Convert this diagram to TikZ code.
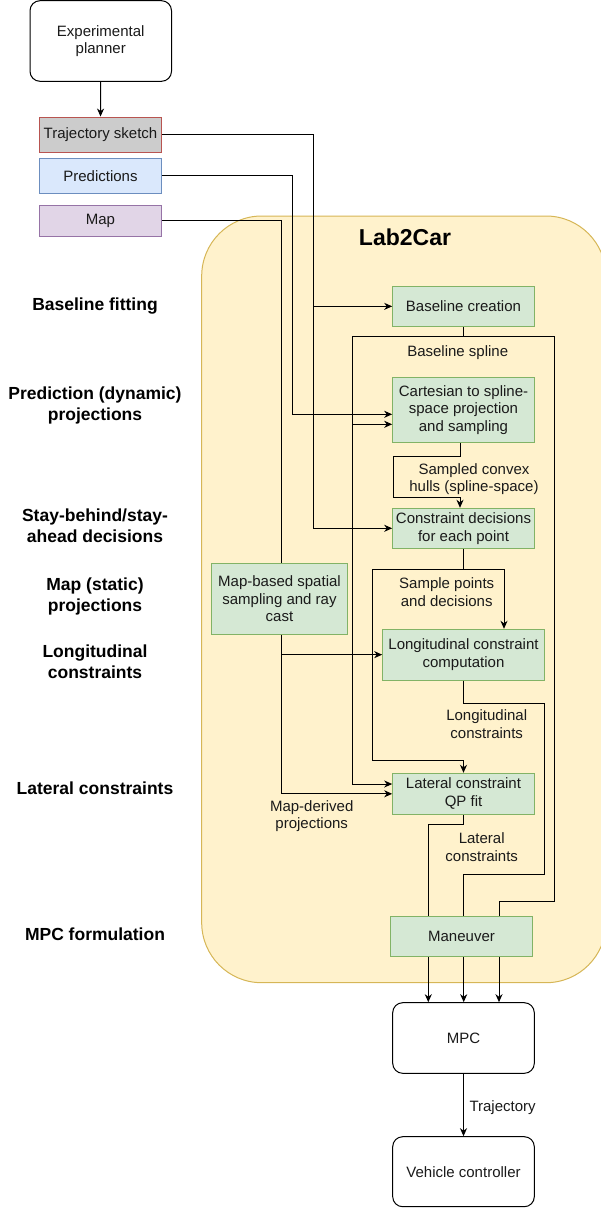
\documentclass[tikz,border=0pt]{standalone}
\usepackage{fontspec}
\setmainfont{Liberation Sans}
\usetikzlibrary{arrows.meta,calc}
\definecolor{gfill}{HTML}{D5E8D4}
\definecolor{gline}{HTML}{82B366}
\definecolor{yfill}{HTML}{FFF2CC}
\definecolor{yline}{HTML}{D6B656}
\definecolor{bfill}{HTML}{DAE8FC}
\definecolor{bline}{HTML}{6C8EBF}
\definecolor{pfill}{HTML}{E1D5E7}
\definecolor{pline}{HTML}{9673A6}
\definecolor{rfill}{HTML}{CCCCCC}
\definecolor{rline}{HTML}{B85450}
\definecolor{txt}{HTML}{1A1A1A}
\tikzset{
  base/.style={draw, line width=1pt, inner sep=0pt, align=center, text=txt,
    font=\fontsize{15}{17.7}\selectfont},
  gbox/.style={base, draw=gline, fill=gfill},
  rbox/.style={base, draw=black, fill=white, rounded corners=10pt},
  lab/.style={inner sep=0pt, align=center, text=txt, font=\fontsize{15}{17.7}\selectfont},
  side/.style={inner sep=0pt, align=center, text=black, font=\fontsize{17.5}{21}\selectfont\bfseries},
  ln/.style={draw=black, line width=1pt},
  arr/.style={ln, -{Stealth[length=8pt,width=7pt,inset=2.5pt]}},
}
\begin{document}
\begin{tikzpicture}[x=1pt,y=-1pt]
\useasboundingbox (0,0) rectangle (601,1208);
% container
\draw[draw=yline, fill=yfill, line width=1pt, rounded corners=60pt] (201.7,216) rectangle (606,982.7);
\node[inner sep=0pt, font=\fontsize{23}{27}\selectfont\bfseries] (l2c) at (405,237) {Lab2Car};

% side labels
\node[side] (s1) at (95,306) {Baseline fitting};
\node[side] (s2) at (95,405) {Prediction (dynamic)\\projections};
\node[side] (s3) at (95,525.5) {Stay-behind/stay-\\ahead decisions};
\node[side] (s4) at (95,596) {Map (static)\\projections};
\node[side] (s5) at (95,662) {Longitudinal\\constraints};
\node[side] (s6) at (95,788) {Lateral constraints};
\node[side] (s7) at (95,934) {MPC formulation};

% top nodes
\node[rbox, minimum width=141.5pt, minimum height=80.6pt] (ep) at (100.75,41) {Experimental\\planner};
\node[base, draw=rline, fill=rfill, minimum width=122pt, minimum height=35.3pt] (ts) at (100.5,134.7) {Trajectory sketch};
\node[base, draw=bline, fill=bfill, minimum width=122pt, minimum height=35.3pt] (pr) at (100.5,175.7) {Predictions};
\node[base, draw=pline, fill=pfill, minimum width=122pt, minimum height=31pt] (mp) at (100.5,220.5) {Map};

% green nodes
\node[gbox, minimum width=141.6pt, minimum height=40.7pt] (bc) at (463.5,306.35) {Baseline creation};
\node[gbox, minimum width=141.6pt, minimum height=65.4pt] (cart) at (463.5,410) {Cartesian to spline-\\space projection\\and sampling};
\node[gbox, minimum width=141.6pt, minimum height=40pt] (cd) at (463.5,528.3) {Constraint decisions\\for each point};
\node[gbox, minimum width=136.4pt, minimum height=71pt] (mb) at (279.5,598.8) {Map-based spatial\\sampling and ray\\cast};
\node[gbox, minimum width=161.6pt, minimum height=50.7pt] (long) at (463.5,654.65) {Longitudinal constraint\\computation};
\node[gbox, minimum width=141.6pt, minimum height=41pt] (lat) at (463.5,793.8) {Lateral constraint\\QP fit};
\node[gbox, minimum width=141.6pt, minimum height=40pt] (man) at (461.5,936.7) {Maneuver};
\node[rbox, minimum width=141.6pt, minimum height=70.6pt] (mpc) at (463.5,1038) {MPC};
\node[rbox, minimum width=141.6pt, minimum height=70pt] (vc) at (463.5,1171.7) {Vehicle controller};

% edge labels
\node[lab] (lbs) at (457.7,352.7) {Baseline spline};
\node[lab] (lsc) at (474,479.2) {Sampled convex\\hulls (spline-space)};
\node[lab] (lsp) at (446.7,592.2) {Sample points\\and decisions};
\node[lab] (llc) at (486.7,724) {Longitudinal\\constraints};
\node[lab] (lmd) at (311.7,816.2) {Map-derived\\projections};
\node[lab] (llat) at (481.7,847.2) {Lateral\\constraints};

% connectors
\draw[arr] (ep.south) -- (ts.north);
\draw[arr] (ts.east) -| (313,528.3) -- (cd.west);
\draw[arr] (313,306.35) -- (bc.west);
\draw[arr] (pr.east) -| (292,414.3) -- ([yshift=-4.3pt]cart.west);
\draw[ln] (mp.east) -| ([xshift=2.2pt]mb.north);

\draw[arr] (bc.south) |- (352.3,336.7) -- (352.3,424.3) -- ([yshift=-14.3pt]cart.west);
\draw[arr] (352.3,424.3) |- ([yshift=9.8pt]lat.west);
\draw[ln] (bc.south) |- (554.3,336.7) -- (554.3,901.7) -| ([xshift=37.5pt]man.north);

\draw[arr] ([xshift=-2.8pt]cart.south) -- (460.7,456.7) -| (393.3,497.7) -| ([xshift=-3.5pt]cd.north);

\draw[arr] (cd.south) |- (504,569) -- ([xshift=40.5pt]long.north);
\draw[arr] (cd.south) |- (372.7,569) |- (463.5,760.7) -- (lat.north);

\draw[arr] ([xshift=2.2pt]mb.south) |- (long.west);
\draw[arr] ([xshift=2.2pt]mb.south) |- (lat.west);

\draw[ln] (long.south) |- (544.3,703.3) -- (544.3,874.3) -| ([xshift=2.2pt]man.north);
\draw[ln] (lat.south) |- (428.3,824) -- ([xshift=-33.2pt]man.north);

\draw[arr] ([xshift=-33.2pt]man.south) -- ([xshift=-33.2pt]man.south |- mpc.north);
\draw[arr] ([xshift=2.2pt]man.south) -- ([xshift=2.2pt]man.south |- mpc.north);
\draw[arr] ([xshift=37.5pt]man.south) -- ([xshift=37.5pt]man.south |- mpc.north);

\draw[arr] (mpc.south) -- (vc.north);
\node[lab, anchor=west] (ltr) at (469.3,1107.3) {Trajectory};
\end{tikzpicture}
\end{document}
